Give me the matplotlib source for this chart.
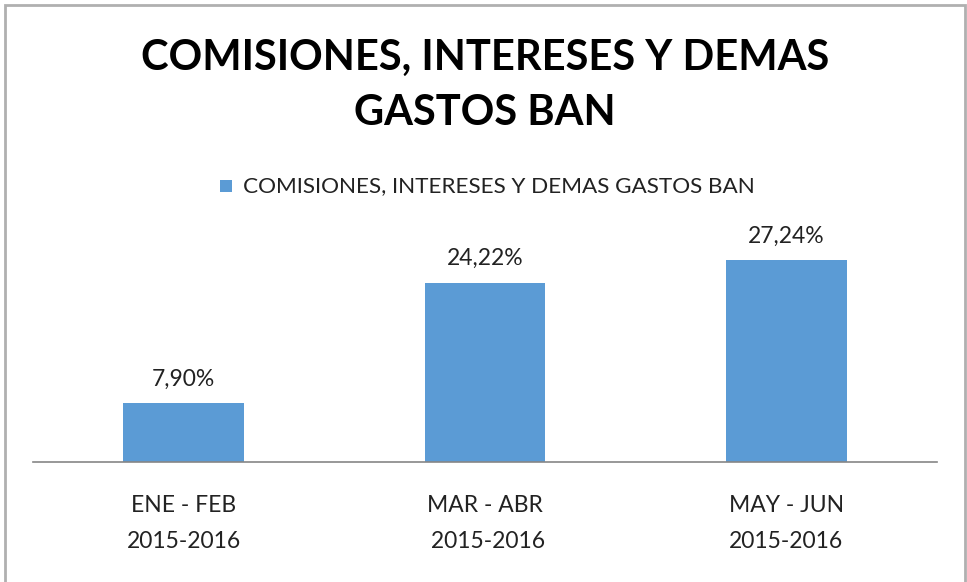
import matplotlib.pyplot as plt
from matplotlib.patches import Rectangle

# data
categorias = ["ENE - FEB\n2015-2016", "MAR - ABR\n 2015-2016", "MAY - JUN\n2015-2016"]
valores = [7.90, 24.22, 27.24]
etiquetas = ["7,90%", "24,22%", "27,24%"]
serie = "COMISIONES, INTERESES Y DEMAS GASTOS BAN"
titulo = "COMISIONES, INTERESES Y DEMAS\nGASTOS BAN"

plt.rcParams['font.family'] = ['Lato', 'DejaVu Sans']
azul = "#5B9BD5"

fig = plt.figure(figsize=(9.67, 5.82), dpi=100)
W, H = 967, 582

# chart border (bottom edge falls outside the picture)
fig.patches.append(Rectangle((5 / W, -0.05), 960 / W, 1.05 - 5 / H, transform=fig.transFigure,
                             fill=False, edgecolor="#b0b0b0", linewidth=2))

ax = fig.add_axes([33 / W, (H - 462) / H, 904 / W, 237 / H])
x = range(len(valores))
ax.bar(x, valores, width=0.40, color=azul)
ax.set_xlim(-0.5, 2.5)
ax.set_ylim(0, 32)

for i, v in enumerate(valores):
    ax.annotate(etiquetas[i], (i, v), xytext=(0, 10), textcoords="offset points",
                ha="center", va="bottom", fontsize=16.5, color="#222222", annotation_clip=False)

for s in ["top", "right", "left"]:
    ax.spines[s].set_visible(False)
ax.spines["bottom"].set_color("#868686")
ax.spines["bottom"].set_linewidth(1.2)
ax.set_yticks([])
ax.set_xticks(list(x))
ax.set_xticklabels(categorias, fontsize=16.5, color="#222222", linespacing=1.85)
ax.tick_params(axis="x", length=0, pad=24)

fig.text(485 / W, 1 - 85 / H, titulo, ha="center", va="center", fontsize=30,
         fontweight="bold", color="black", linespacing=1.55)

# legend
fig.patches.append(Rectangle((220 / W, 1 - 192 / H), 12 / W, 12 / H, transform=fig.transFigure,
                             facecolor=azul, edgecolor="none"))
fig.text(243 / W, 1 - 186 / H, serie, ha="left", va="center", fontsize=16.2, color="#222222")

fig.savefig("out.png", dpi=100, facecolor="white")
